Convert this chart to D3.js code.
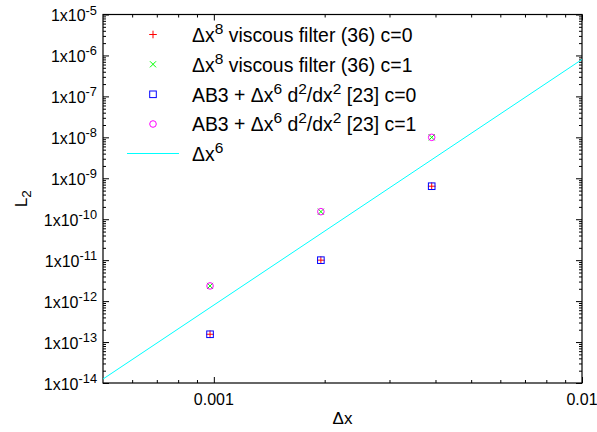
<!DOCTYPE html>
<html><head><meta charset="utf-8">
<script src="https://cdn.jsdelivr.net/npm/d3@7"></script>
<style>
body{margin:0;background:#fff}
svg{display:block}
text{font-family:"Liberation Sans",Arial,Helvetica,sans-serif;white-space:pre}
</style>
</head><body><svg id="c" width="597" height="432"></svg>
<script>
// ---- data ----
const dx = [1/1024, 1/512, 1/256];
const viscousC0 = [1.55e-13, 1.0e-11, 6.4e-10];
const viscousC1 = [2.35e-12, 1.53e-10, 1.0e-8];
const ab3C0 = [1.55e-13, 1.0e-11, 6.4e-10];
const ab3C1 = [2.35e-12, 1.53e-10, 1.0e-8];
const refX = [0.0005, 0.01];
const refY = [1.25e-14, 8.0e-7];
const xMajorTicks = [0.001, 0.01];
const xTickLabels = ["0.001", "0.01"];
const yMajorTicks = [1e-14, 1e-13, 1e-12, 1e-11, 1e-10, 1e-9, 1e-8, 1e-7, 1e-6, 1e-5];
const yTickLabels = ["1x10^{-14}", "1x10^{-13}", "1x10^{-12}", "1x10^{-11}", "1x10^{-10}",
                     "1x10^{-9}", "1x10^{-8}", "1x10^{-7}", "1x10^{-6}", "1x10^{-5}"];
const legendLabels = ["Δx^{8} viscous filter (36) c=0", "Δx^{8} viscous filter (36) c=1",
                      "AB3 + Δx^{6} d^{2}/dx^{2} [23] c=0", "AB3 + Δx^{6} d^{2}/dx^{2} [23] c=1", "Δx^{6}"];
const xLabel = "Δx";
const yLabel = "L_{2}";

// ---- layout ----
const L = 103, R = 582, T = 14.5, B = 383;
const FS = 16, LFS = 19.4;
const svg = d3.select("#c");
const x = d3.scaleLog().domain([0.0005, 0.01]).range([L, R]);
const y = d3.scaleLog().domain([1e-14, 1e-5]).range([B, T]);

const xMinor = [];
[1e-4, 1e-3].forEach(d => { for (let k = 2; k <= 9; k++) { const v = k * d; if (v > 0.00051 && v < 0.0099) xMinor.push(v); } });
const yMinor = [];
for (let e = -14; e < -5; e++) for (let k = 2; k <= 9; k++) yMinor.push(k * Math.pow(10, e));

function styleAxis(g) {
  g.select(".domain").remove();
  g.selectAll("line").attr("stroke", "#000").attr("stroke-width", 1);
  g.selectAll("text").remove();
}
// minor ticks
svg.append("g").attr("transform", `translate(0,${B})`).call(d3.axisBottom(x).tickValues(xMinor).tickSize(-3).tickFormat("")).call(styleAxis);
svg.append("g").attr("transform", `translate(0,${T})`).call(d3.axisTop(x).tickValues(xMinor).tickSize(-3).tickFormat("")).call(styleAxis);
svg.append("g").attr("transform", `translate(${L},0)`).call(d3.axisLeft(y).tickValues(yMinor).tickSize(-3).tickFormat("")).call(styleAxis);
svg.append("g").attr("transform", `translate(${R},0)`).call(d3.axisRight(y).tickValues(yMinor).tickSize(-3).tickFormat("")).call(styleAxis);
// major ticks
svg.append("g").attr("transform", `translate(0,${B})`).call(d3.axisBottom(x).tickValues(xMajorTicks).tickSize(-6).tickFormat("")).call(styleAxis);
svg.append("g").attr("transform", `translate(0,${T})`).call(d3.axisTop(x).tickValues(xMajorTicks).tickSize(-6).tickFormat("")).call(styleAxis);
svg.append("g").attr("transform", `translate(${L},0)`).call(d3.axisLeft(y).tickValues(yMajorTicks).tickSize(-6).tickFormat("")).call(styleAxis);
svg.append("g").attr("transform", `translate(${R},0)`).call(d3.axisRight(y).tickValues(yMajorTicks).tickSize(-6).tickFormat("")).call(styleAxis);

// frame
svg.append("rect").attr("x", L).attr("y", T).attr("width", R - L).attr("height", B - T)
  .attr("fill", "none").attr("stroke", "#000").attr("stroke-width", 1.2);

function rich(sel, str, fs) {
  const parts = str.split(/(\^\{[^}]*\}|_\{[^}]*\})/).filter(s => s.length);
  let shift = 0;
  parts.forEach(p => {
    let t, target, size;
    if (p.startsWith("^{")) { t = p.slice(2, -1); target = -0.42 * fs; size = 0.8 * fs; }
    else if (p.startsWith("_{")) { t = p.slice(2, -1); target = 0.25 * fs; size = 0.8 * fs; }
    else { t = p; target = 0; size = fs; }
    sel.append("tspan").attr("dy", target - shift).attr("font-size", size).text(t);
    shift = target;
  });
}

// tick labels
yMajorTicks.forEach((v, i) => {
  const t = svg.append("text").attr("x", L - 6).attr("y", y(v) + 0.42 * FS)
    .attr("text-anchor", "end").attr("font-size", FS).attr("fill", "#000");
  rich(t, yTickLabels[i], FS);
});
xMajorTicks.forEach((v, i) => {
  svg.append("text").attr("x", x(v)).attr("y", B + 6 + FS)
    .attr("text-anchor", "middle").attr("font-size", FS).attr("fill", "#000").text(xTickLabels[i]);
});
// axis labels
const xl = svg.append("text").attr("x", (L + R) / 2).attr("y", B + 41).attr("text-anchor", "middle").attr("font-size", 17);
rich(xl, xLabel, 17);
const yl = svg.append("text").attr("transform", `translate(27,${(T + B) / 2}) rotate(-90)`).attr("text-anchor", "middle").attr("font-size", 17);
rich(yl, yLabel, 17);

// plot content
const plot = svg.append("g");
const line = d3.line().x((d, i) => x(refX[i])).y(d => y(d));
plot.append("path").datum(refY).attr("d", line).attr("fill", "none").attr("stroke", "#00ffff").attr("stroke-width", 1);

const S = 3.8;
function drawPlus(g, cx, cy, col) {
  g.append("path").attr("d", `M${cx - S},${cy}H${cx + S}M${cx},${cy - S}V${cy + S}`).attr("stroke", col).attr("fill", "none").attr("stroke-width", 1);
}
function drawCross(g, cx, cy, col) {
  const s = S * 0.8;
  g.append("path").attr("d", `M${cx - s},${cy - s}L${cx + s},${cy + s}M${cx - s},${cy + s}L${cx + s},${cy - s}`).attr("stroke", col).attr("fill", "none").attr("stroke-width", 1);
}
function drawSquare(g, cx, cy, col) {
  g.append("rect").attr("x", cx - S + 0.5).attr("y", cy - S + 0.5).attr("width", 2 * S - 1).attr("height", 2 * S - 1).attr("stroke", col).attr("fill", "none").attr("stroke-width", 1);
}
function drawCircle(g, cx, cy, col) {
  g.append("circle").attr("cx", cx).attr("cy", cy).attr("r", S - 0.5).attr("stroke", col).attr("fill", "none").attr("stroke-width", 1);
}
const series = [
  {vals: viscousC0, col: "#ff0000", f: drawPlus},
  {vals: viscousC1, col: "#00ff00", f: drawCross},
  {vals: ab3C0, col: "#0000ff", f: drawSquare},
  {vals: ab3C1, col: "#ff00ff", f: drawCircle}
];
series.forEach(s => s.vals.forEach((v, i) => s.f(plot, x(dx[i]), y(v), s.col)));

// legend
const legY = [34.5, 64.3, 94.3, 124, 153.5];
series.forEach((s, i) => s.f(svg, 153, legY[i], s.col));
svg.append("line").attr("x1", 127).attr("x2", 179).attr("y1", legY[4]).attr("y2", legY[4]).attr("stroke", "#00ffff").attr("stroke-width", 1);
legendLabels.forEach((lab, i) => {
  const t = svg.append("text").attr("x", 192).attr("y", legY[i] + 0.38 * LFS).attr("font-size", LFS).attr("fill", "#000");
  rich(t, lab, LFS);
});
</script></body></html>
